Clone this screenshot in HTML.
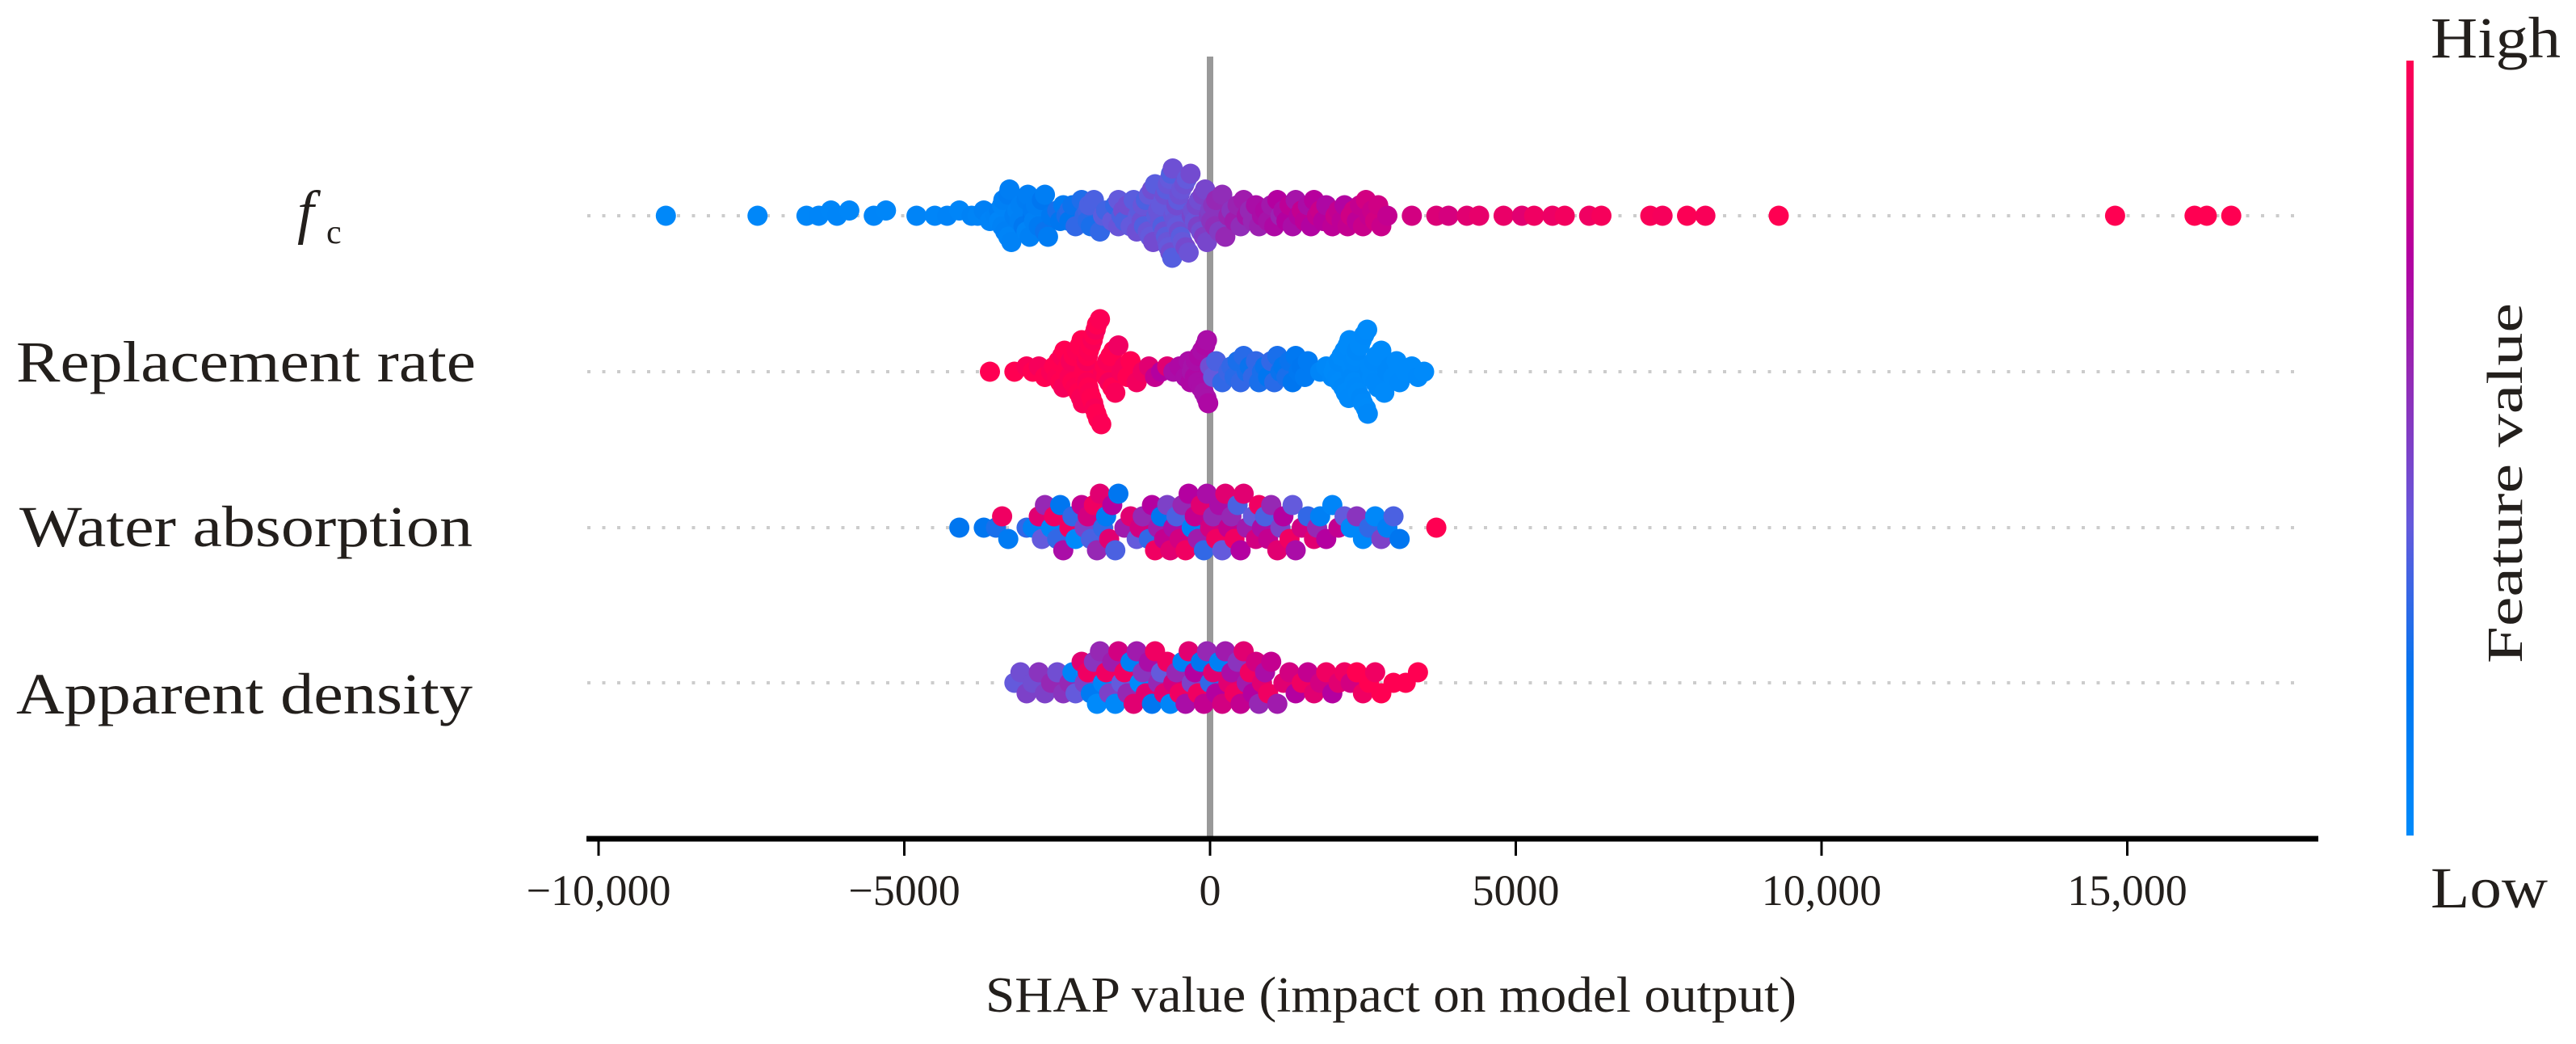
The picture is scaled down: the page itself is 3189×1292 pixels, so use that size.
<!DOCTYPE html>
<html><head><meta charset="utf-8"><style>
html,body{margin:0;padding:0;background:#fff}
svg{display:block}
text{font-family:"Liberation Serif",serif;fill:#231f1c}
</style></head><body>
<svg id="chart" width="3189" height="1292" viewBox="0 0 3189 1292">
<defs>
<linearGradient id="cbar" x1="0" y1="1" x2="0" y2="0">
<stop offset="0" stop-color="rgb(0,138,250)"/>
<stop offset="0.2" stop-color="rgb(0,118,240)"/>
<stop offset="0.4" stop-color="rgb(100,90,220)"/>
<stop offset="0.6" stop-color="rgb(150,40,180)"/>
<stop offset="0.75" stop-color="rgb(180,0,160)"/>
<stop offset="1" stop-color="rgb(255,0,82)"/>
</linearGradient>
</defs>
<g id="gridlines"></g>
<line x1="1498" y1="70" x2="1498" y2="1038" stroke="#999" stroke-width="8"/>
<g id="dots"></g>
<line x1="726" y1="1038" x2="2870" y2="1038" stroke="#000" stroke-width="7"/>
<g id="xticks"></g>
<text x="1722" y="1252" font-size="62" text-anchor="middle" textLength="1004" lengthAdjust="spacingAndGlyphs">SHAP value (impact on model output)</text>
<g>
<text x="368" y="287" font-size="74" font-style="italic">f<tspan x="404" y="301" font-size="42" font-style="normal">c</tspan></text>
<text x="20" y="472" font-size="72" textLength="569" lengthAdjust="spacingAndGlyphs">Replacement rate</text>
<text x="24" y="676" font-size="72" textLength="561" lengthAdjust="spacingAndGlyphs">Water absorption</text>
<text x="20" y="883" font-size="72" textLength="565" lengthAdjust="spacingAndGlyphs">Apparent density</text>
</g>
<g>
<rect x="2979" y="75" width="9" height="959" fill="url(#cbar)"/>
<text x="3009" y="71" font-size="72" textLength="161" lengthAdjust="spacingAndGlyphs">High</text>
<text x="3009" y="1123" font-size="72" textLength="145" lengthAdjust="spacingAndGlyphs">Low</text>
<text transform="translate(3122,598) rotate(-90)" font-size="62" text-anchor="middle" textLength="446" lengthAdjust="spacingAndGlyphs">Feature value</text>
</g>
</svg>
<script>
const tickValues = [-10000, -5000, 0, 5000, 10000, 15000];
const tickLabels = ["\u221210,000", "\u22125000", "0", "5000", "10,000", "15,000"];
const featureNames = ["fc", "Replacement rate", "Water absorption", "Apparent density"];
const rowCenters = [267, 460, 653, 845];

const fcShap = [-8900,-7400,-6600,-6400,-6200,-6100,-5900,-5500,-5300,-4800,-4500,-4300,-4100,-3900,-3800,-3700,-3600,-3500,-3450,-3400,-3350,-3300,-3250,-3200,-3100,-3050,-3000,-2950,-2900,-2850,-2800,-2700,-2650,-2600,-2500,-2450,-2400,-2300,-2250,-2200,-2100,-2000,-1950,-1900,-1800,-1750,-1700,-1600,-1550,-1500,-1400,-1350,-1300,-1250,-1200,-1100,-1050,-1000,-950,-900,-850,-800,-780,-750,-720,-700,-680,-650,-620,-600,-580,-550,-520,-500,-450,-400,-350,-300,-250,-200,-150,-100,-50,0,50,100,150,200,300,350,400,500,600,700,750,800,900,1000,1100,1150,1200,1300,1400,1450,1500,1600,1700,1800,1900,2000,2100,2200,2300,2400,2500,2600,2700,2800,2900,3300,3700,3900,4200,4400,4800,5100,5300,5600,5800,6200,6400,7200,7400,7800,8100,9300,14800,16100,16300,16700];
const fcFeat = [.02,.03,.04,.05,.04,.05,.04,.05,.04,.06,.05,.07,.05,.08,.06,.1,.07,.08,.12,.06,.1,.15,.08,.12,.1,.18,.14,.1,.2,.12,.16,.22,.14,.18,.25,.2,.15,.28,.22,.3,.26,.32,.25,.35,.3,.38,.33,.4,.3,.42,.35,.45,.4,.38,.44,.42,.35,.4,.45,.38,.42,.4,.36,.44,.38,.42,.4,.45,.37,.43,.4,.46,.39,.44,.41,.47,.43,.48,.42,.5,.45,.52,.48,.5,.55,.6,.52,.58,.62,.55,.65,.58,.68,.6,.7,.63,.72,.66,.75,.62,.7,.78,.68,.74,.8,.7,.76,.82,.72,.78,.8,.74,.84,.78,.82,.8,.85,.82,.8,.85,.88,.86,.9,.92,.93,.9,.95,.94,.96,.95,.97,.98,.97,.99,.98,1,1,1,1,1];
const fcShapExtra = [-3450,-3400,-3380,-3300,-3280,-3150,-3120,-3000,-2980,-2900,-2880,-2750,-2700,-2350,-2300,-2050,-2000,-1980,-1500,-1450,-1420,-1180,-1150,-1120,-1080,-1020,-980,-930,-880,-820,-760,-740,-710,-690,-660,-640,-610,-570,-540,-510,-480,-470,-420,-380,-320,-280,-220,-180,-120,-80,-20,20,80,250,450,550,650,850,950,1050,1250,1350,1550,1650,1750,1850,2050,2150,2250,2350,2450,2550,2650,2750];
const fcFeatExtra = [.05,.08,.1,.06,.12,.08,.1,.06,.12,.15,.1,.2,.12,.25,.2,.3,.28,.35,.4,.35,.45,.4,.38,.44,.36,.42,.4,.46,.38,.42,.4,.44,.38,.42,.4,.36,.44,.42,.4,.45,.38,.42,.44,.4,.46,.44,.48,.45,.5,.48,.52,.55,.58,.6,.62,.65,.6,.7,.68,.72,.75,.7,.78,.74,.8,.76,.82,.78,.8,.84,.8,.85,.82,.84];

const rrShap = [-3600,-3200,-3000,-2900,-2800,-2700,-2600,-2550,-2500,-2450,-2400,-2350,-2300,-2250,-2200,-2150,-2100,-2080,-2050,-2020,-2000,-1980,-1950,-1920,-1900,-1870,-1850,-1800,-1750,-1700,-1650,-1600,-1550,-1500,-1400,-1300,-1200,-1100,-1000,-900,-800,-700,-600,-500,-400,-300,-250,-200,-150,-100,-80,-50,0,50,100,200,300,400,500,600,700,800,900,1000,1100,1200,1300,1400,1500,1600,1800,1900,2000,2050,2100,2150,2200,2250,2300,2320,2350,2380,2400,2450,2500,2550,2600,2650,2700,2800,2900,3000,3100,3300,3500];
const rrFeat = [1,1,.98,1,.97,1,.98,1,.99,1,.97,1,.98,1,.99,1,1,.98,1,.97,1,.99,1,.98,1,.97,1,.99,.98,1,.96,1,.98,.95,.97,1,.96,.95,.9,.8,.75,.9,.7,.72,.7,.68,.72,.7,.7,.68,.72,.7,.45,.4,.35,.3,.32,.28,.3,.25,.3,.25,.22,.3,.25,.2,.22,.18,.2,.15,.05,.02,.03,0,.02,0,.01,0,.02,0,.01,0,.02,0,.01,0,.02,0,.01,0,.02,0,.01,0,0];
const rrShapExtra = [-2480,-2420,-2380,-2320,-2280,-2230,-2180,-2130,-2110,-2060,-2040,-2010,-1990,-1970,-1940,-1910,-1890,-1860,-1830,-1780,-1720,-1680,-1630,-1580,-1450,-1350,-350,-320,-280,-230,-180,-130,-60,-30,-10,350,450,550,650,750,850,950,1050,1150,1250,1350,1450,1550,2020,2080,2120,2180,2220,2270,2280,2330,2360,2390,2420,2470,2480,2520,2570,2580,2620,2680,2720,2750,2850,2950,3050,3200,3400];
const rrFeatExtra = [1,.98,1,1,.97,1,.99,1,.98,1,1,.98,1,.99,1,1,.98,1,1,.99,1,.98,1,1,.97,1,.7,.72,.68,.7,.72,.7,.68,.72,.7,.3,.25,.28,.22,.3,.25,.2,.28,.22,.25,.2,.18,.15,0,.01,0,.02,0,.01,0,.02,0,.01,0,.02,0,.01,0,.02,0,.01,0,.01,0,.02,0,0,.01];

const waShap = [-4100,-3700,-3500,-3400,-3300,-3000,-2900,-2800,-2750,-2700,-2600,-2550,-2500,-2450,-2400,-2300,-2250,-2200,-2100,-2050,-2000,-1950,-1900,-1850,-1800,-1750,-1700,-1650,-1600,-1550,-1500,-1400,-1300,-1200,-1150,-1100,-1000,-950,-900,-850,-800,-750,-700,-650,-600,-550,-500,-450,-400,-350,-300,-250,-200,-150,-100,-50,0,50,100,150,200,250,300,350,400,450,500,550,600,700,750,800,850,900,950,1000,1100,1150,1200,1300,1350,1400,1500,1600,1700,1750,1800,1900,2000,2100,2200,2300,2400,2500,2600,2700,2800,2900,3000,3100,3700];
const waFeat = [.2,.2,.25,.95,.15,.3,.1,.9,.4,.6,.05,.95,.3,.2,.7,.95,.3,0,.8,.5,.85,.35,.95,.6,.9,.3,.15,.9,.75,.35,.2,.65,.9,.4,.85,.6,.3,.75,.95,.65,.2,.8,.5,.9,.7,.35,.85,.6,.95,.75,.1,.8,.65,.9,.3,.7,.85,.6,.95,.7,.4,.9,.8,.6,.95,.35,.75,.9,.65,.4,.85,.95,.7,.35,.8,.6,.9,.5,.75,.95,.4,.7,.85,.3,.9,.6,.1,.75,.05,.8,.4,.02,.55,.03,.3,.02,.5,.1,.35,.2,1];

const adShap = [-3200,-3100,-3000,-2900,-2800,-2700,-2600,-2500,-2400,-2300,-2250,-2200,-2100,-2050,-2000,-1950,-1900,-1850,-1800,-1750,-1700,-1650,-1600,-1550,-1500,-1450,-1400,-1350,-1300,-1250,-1200,-1150,-1100,-1050,-1000,-950,-900,-850,-800,-750,-700,-650,-600,-550,-500,-450,-400,-350,-300,-250,-200,-150,-100,-50,0,50,100,150,200,250,300,350,400,450,500,550,600,650,700,750,800,850,900,950,1000,1100,1200,1300,1400,1500,1600,1700,1800,1900,2000,2100,2200,2300,2400,2500,2600,2700,2800,3000,3200,3400];
const adFeat = [.4,.45,.5,.45,.55,.5,.6,.45,.55,.6,.05,.4,.9,.5,.95,.15,.55,0,.6,.05,.95,.5,.65,.02,.85,.4,.95,.6,.1,.9,.65,0,.55,.9,.7,.2,.95,.6,.4,.9,.95,.05,.85,.6,.95,.1,.7,.9,.5,.75,.95,.2,.8,.6,.3,.9,.75,.1,.85,.65,.9,.7,.95,.55,.8,.9,.65,.95,.75,.85,.6,.9,.7,.95,.8,.65,.9,.85,.75,.95,.8,.9,.85,.95,.75,.9,.95,.85,1,.95,1,.95,1,1,1,1];

const rowShap = [fcShap.concat(fcShapExtra), rrShap.concat(rrShapExtra), waShap, adShap];
const rowFeat = [fcFeat.concat(fcFeatExtra), rrFeat.concat(rrFeatExtra), waFeat, adFeat];

const NS = "http://www.w3.org/2000/svg";
const xScale = v => 1498 + v * (378.5 / 5000);
function colorFor(t) {
  const stops = [[0,[0,138,250]],[0.2,[0,118,240]],[0.4,[100,90,220]],[0.6,[150,40,180]],[0.75,[180,0,160]],[1,[255,0,82]]];
  for (let i = 1; i < stops.length; i++) {
    if (t <= stops[i][0]) {
      const a = stops[i-1], b = stops[i];
      const f = (t - a[0]) / (b[0] - a[0]);
      const c = a[1].map((v, k) => Math.round(v + (b[1][k] - v) * f));
      return `rgb(${c[0]},${c[1]},${c[2]})`;
    }
  }
  return "rgb(255,0,82)";
}

const grid = document.getElementById("gridlines");
rowCenters.forEach((y, i) => {
  const l = document.createElementNS(NS, "line");
  l.setAttribute("x1", 727); l.setAttribute("x2", 2840);
  l.setAttribute("y1", y); l.setAttribute("y2", y);
  l.setAttribute("stroke", "#ccc"); l.setAttribute("stroke-width", 4);
  l.setAttribute("stroke-dasharray", "4 14.5");
  
  
  grid.appendChild(l);
});

const xt = document.getElementById("xticks");
tickValues.forEach((v, i) => {
  const x = xScale(v);
  const t = document.createElementNS(NS, "line");
  t.setAttribute("x1", x); t.setAttribute("x2", x);
  t.setAttribute("y1", 1038); t.setAttribute("y2", 1059);
  t.setAttribute("stroke", "#000"); t.setAttribute("stroke-width", 3);
  
  
  xt.appendChild(t);
  const lb = document.createElementNS(NS, "text");
  lb.setAttribute("x", x); lb.setAttribute("y", 1120);
  lb.setAttribute("font-size", "54"); lb.setAttribute("text-anchor", "middle");
  lb.textContent = tickLabels[i];
  
  
  xt.appendChild(lb);
});

const dots = document.getElementById("dots");
const binW = 22, r = 12.5;
const rowSteps = [6.5, 6.5, 14, 13];
rowShap.forEach((vals, ri) => {
  const feats = rowFeat[ri];
  const step = rowSteps[ri];
  const idx = vals.map((v, i) => i).sort((a, b) => vals[a] - vals[b]);
  const bins = {};
  idx.forEach(i => {
    const px = xScale(vals[i]);
    const b = Math.floor(px / binW);
    const k = bins[b] || 0; bins[b] = k + 1;
    const off = k === 0 ? 0 : Math.ceil(k / 2) * (k % 2 ? -1 : 1) * step;
    const c = document.createElementNS(NS, "circle");
    c.setAttribute("cx", px.toFixed(1));
    c.setAttribute("cy", rowCenters[ri] + off);
    c.setAttribute("r", r);
    c.setAttribute("fill", colorFor(feats[i]));
    
    
    dots.appendChild(c);
  });
});
</script>
</body></html>
